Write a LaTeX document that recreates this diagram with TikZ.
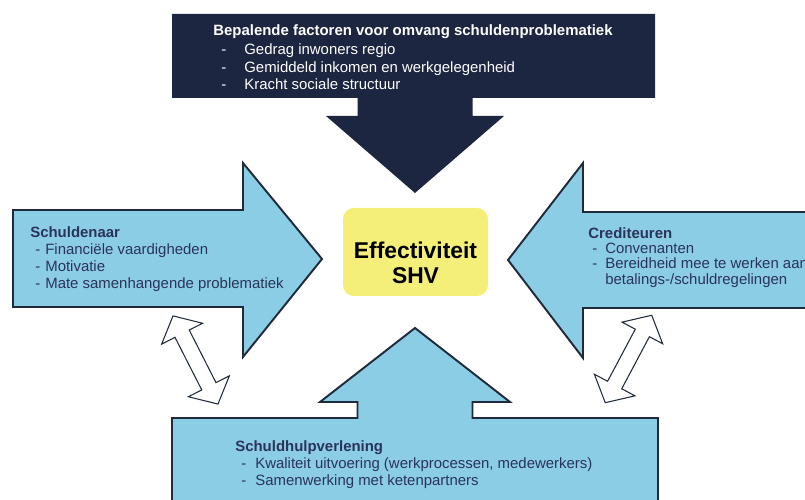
\documentclass[tikz,border=0pt]{standalone}
\usepackage{fontspec}
\setmainfont{Liberation Sans}
\usepackage{xcolor}
\usepackage{tikz}
\definecolor{SHVNavy}{HTML}{1D2640}
\definecolor{SHVBlue}{HTML}{8CCDE6}
\definecolor{SHVEdge}{HTML}{1F2A3A}
\definecolor{SHVYellow}{HTML}{F4EF78}
\definecolor{SHVText}{HTML}{2A3358}
\newcommand{\dashitem}[3]{\hspace*{#1}\makebox[#2][l]{-}#3}

\begin{document}
\begin{tikzpicture}[x=1cm,y=1cm,
  bigarrow/.style={fill=SHVBlue,draw=SHVEdge,line width=1.1pt,line join=miter},
  twoway/.style={fill=white,draw=SHVEdge,line width=.6pt,line join=miter},
  blocktext/.style={anchor=north west,align=left,inner sep=0pt,text=SHVText,font=\fontsize{8.5}{9.8}\selectfont}]
\path[use as bounding box] (0,0) rectangle (16.10,10.00);
\clip (0,0) rectangle (16.10,10.00);
% factors on top
\fill[SHVNavy] (3.44,9.72) -- (13.10,9.72) -- (13.10,8.04) -- (9.45,8.04) -- (9.45,7.68) -- (10.08,7.68) -- (8.30,6.14) -- (6.52,7.68) -- (7.15,7.68) -- (7.15,8.04) -- (3.44,8.04) -- cycle;
% debtor, creditors, debt aid
\draw[bigarrow] (0.26,5.80) -- (4.86,5.80) -- (4.86,6.74) -- (6.44,4.82) -- (4.86,2.86) -- (4.86,3.86) -- (0.26,3.86) -- cycle;
\draw[bigarrow] (16.40,5.76) -- (11.66,5.76) -- (11.66,6.74) -- (10.16,4.80) -- (11.66,2.84) -- (11.66,3.84) -- (16.40,3.84) -- cycle;
\draw[bigarrow] (3.44,-0.30) -- (3.44,1.64) -- (7.15,1.64) -- (7.15,1.96) -- (6.40,1.96) -- (8.30,3.44) -- (10.20,1.96) -- (9.45,1.96) -- (9.45,1.64) -- (13.16,1.64) -- (13.16,-0.30) -- cycle;
% two-way arrows
\begin{scope}[shift={(3.91,2.80)},rotate=-63]
\draw[twoway] (-0.99,0) -- (-0.59,0.46) -- (-0.59,0.16) -- (0.59,0.16) -- (0.59,0.46) -- (0.99,0) -- (0.59,-0.46) -- (0.59,-0.16) -- (-0.59,-0.16) -- (-0.59,-0.46) -- cycle;
\end{scope}
\begin{scope}[shift={(12.57,2.82)},rotate=62]
\draw[twoway] (-0.99,0) -- (-0.59,0.46) -- (-0.59,0.16) -- (0.59,0.16) -- (0.59,0.46) -- (0.99,0) -- (0.59,-0.46) -- (0.59,-0.16) -- (-0.59,-0.16) -- (-0.59,-0.46) -- cycle;
\end{scope}
% centre
\fill[SHVYellow,rounded corners=0.22cm] (6.86,5.84) rectangle (9.76,4.08);
\node[font=\bfseries\fontsize{13}{14}\selectfont,align=center,text=black] (shv) at (8.31,4.74) {Effectiviteit\\SHV};
% texts
\node[blocktext,text=white,font=\fontsize{8.5}{10}\selectfont] (factors) at (4.26,9.52) {\textbf{Bepalende factoren voor omvang schuldenproblematiek}\\[1pt]
  \dashitem{0.16cm}{0.46cm}{Gedrag inwoners regio}\\
  \dashitem{0.16cm}{0.46cm}{Gemiddeld inkomen en werkgelegenheid}\\
  \dashitem{0.16cm}{0.46cm}{Kracht sociale structuur}};
\node[blocktext] (debtor) at (0.60,5.48) {\textbf{Schuldenaar}\\
  \dashitem{0.10cm}{0.20cm}{Financiële vaardigheden}\\
  \dashitem{0.10cm}{0.20cm}{Motivatie}\\
  \dashitem{0.10cm}{0.20cm}{Mate samenhangende problematiek}};
\node[blocktext,font=\fontsize{8.5}{8.7}\selectfont] (creditors) at (11.76,5.46) {\textbf{Crediteuren}\\
  \dashitem{0.08cm}{0.26cm}{Convenanten}\\
  \dashitem{0.08cm}{0.26cm}{Bereidheid mee te werken aan}\\
  \hspace*{0.34cm}betalings-/schuldregelingen};
\node[blocktext] (aid) at (4.70,1.20) {\textbf{Schuldhulpverlening}\\
  \dashitem{0.12cm}{0.28cm}{Kwaliteit uitvoering (werkprocessen, medewerkers)}\\
  \dashitem{0.12cm}{0.28cm}{Samenwerking met ketenpartners}};
\end{tikzpicture}
\end{document}
